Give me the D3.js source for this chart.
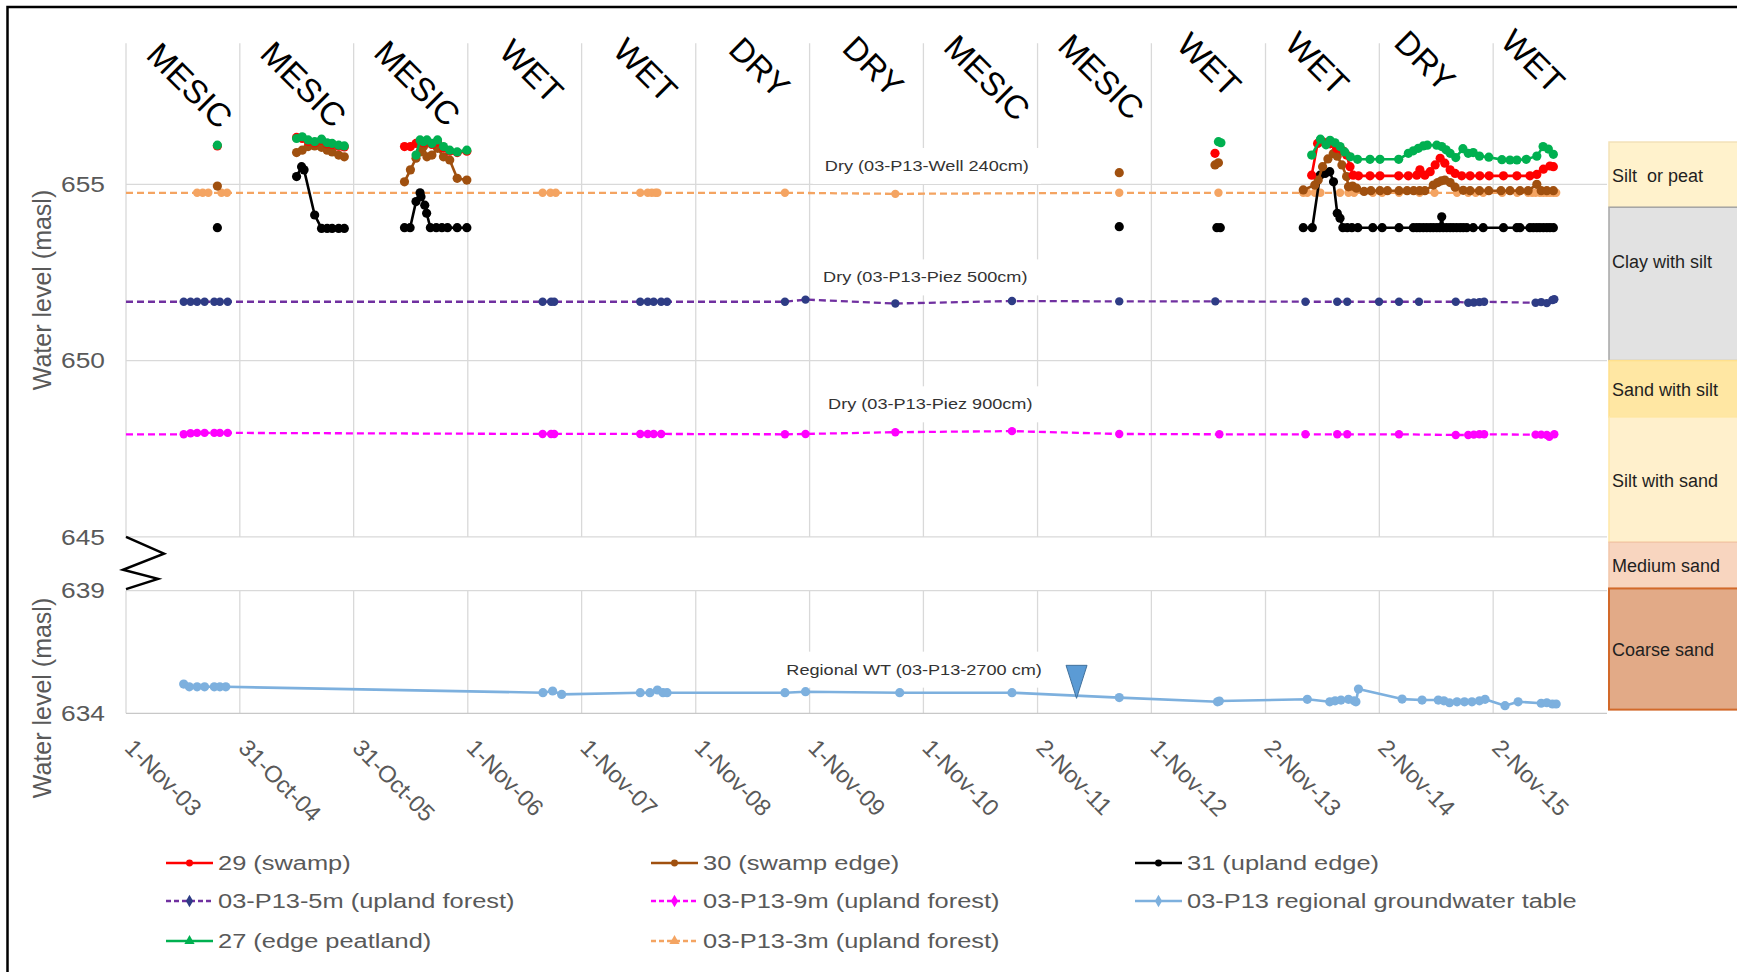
<!DOCTYPE html>
<html>
<head>
<meta charset="utf-8">
<script src="https://cdn.jsdelivr.net/npm/d3@7"></script>
<style>
  html, body { margin: 0; padding: 0; background: #ffffff; }
  svg { display: block; font-family: "Liberation Sans", Arial, sans-serif; }
</style>
</head>
<body>
<svg id="chart" width="1737" height="972"></svg>
<script>
// ---------------------------------------------------------------------------
// Axis ticks and period classes
// ---------------------------------------------------------------------------
const xTickLabels = ["1-Nov-03","31-Oct-04","31-Oct-05","1-Nov-06","1-Nov-07","1-Nov-08",
  "1-Nov-09","1-Nov-10","2-Nov-11","1-Nov-12","2-Nov-13","2-Nov-14","2-Nov-15"];
const periodClasses = ["MESIC","MESIC","MESIC","WET","WET","DRY","DRY","MESIC","MESIC",
  "WET","WET","DRY","WET"];
const upperTicks = [645, 650, 655];
const lowerTicks = [634, 639];

// ---------------------------------------------------------------------------
// Water levels (masl)
// ---------------------------------------------------------------------------
const swamp29Dates = ["2004-08-20",
  "2005-05-01","2005-05-19","2005-06-07","2005-06-28","2005-07-20","2005-08-07","2005-08-23","2005-09-13","2005-10-01",
  "2006-04-12","2006-05-01","2006-05-19","2006-06-01","2006-06-12","2006-06-23","2006-07-09","2006-07-27","2006-08-15","2006-09-04","2006-09-28","2006-10-29",
  "2013-05-24",
  "2014-03-30","2014-04-18","2014-05-06","2014-05-28","2014-06-18","2014-07-08","2014-07-20","2014-07-31","2014-08-10","2014-08-27","2014-10-03","2014-11-04",
  "2015-01-03","2015-02-03","2015-03-02","2015-03-12","2015-03-28","2015-04-14","2015-04-30","2015-05-16","2015-05-31","2015-06-17","2015-07-03","2015-07-24","2015-08-20","2015-09-20","2015-10-20","2015-12-05",
  "2016-01-17","2016-02-28","2016-03-21","2016-04-11","2016-05-02","2016-05-13"];
const swamp29Levels = [656.09,
  656.33,656.30,656.22,656.18,656.25,656.15,656.13,656.08,656.06,
  656.07,656.07,656.16,656.22,656.18,656.22,656.13,656.20,656.03,655.94,655.90,655.94,
  655.88,
  655.26,656.16,656.20,656.15,656.02,655.95,655.83,655.50,655.26,655.24,655.24,655.24,
  655.24,655.24,655.26,655.41,655.26,655.36,655.55,655.74,655.60,655.41,655.31,655.24,655.24,655.24,655.24,655.24,
  655.24,655.24,655.28,655.43,655.52,655.50];

const swampEdge30Dates = ["2004-08-20",
  "2005-05-01","2005-05-19","2005-06-07","2005-06-28","2005-07-20","2005-08-07","2005-08-23","2005-09-13","2005-10-01",
  "2006-04-12","2006-05-01","2006-05-19","2006-06-01","2006-06-12","2006-06-23","2006-07-09","2006-07-27","2006-08-15","2006-09-04","2006-09-28","2006-10-29",
  "2012-07-21",
  "2013-05-24","2013-06-04",
  "2014-03-03","2014-04-09","2014-04-20","2014-05-04","2014-05-21","2014-06-07","2014-06-20","2014-07-05","2014-07-20","2014-07-26","2014-08-08","2014-08-21","2014-09-14","2014-10-06","2014-11-04","2014-11-28",
  "2015-01-04","2015-01-30","2015-02-20","2015-03-11","2015-03-28","2015-04-24","2015-05-08","2015-05-20","2015-05-31","2015-06-17","2015-07-03","2015-07-29","2015-08-20","2015-09-19","2015-10-19","2015-11-27","2015-12-26",
  "2016-01-27","2016-02-22","2016-03-21","2016-04-04","2016-04-22","2016-05-13"];
const swampEdge30Levels = [654.95,
  655.90,655.97,656.07,656.09,656.05,655.97,655.92,655.83,655.78,
  655.07,655.41,655.74,655.92,656.07,655.78,655.83,656.02,655.78,655.69,655.17,655.12,
  655.33,
  655.55,655.61,
  654.84,654.98,655.12,655.50,655.72,655.87,655.80,655.55,655.22,654.93,654.95,654.89,654.80,654.82,654.82,654.82,
  654.82,654.82,654.82,654.82,654.82,654.98,655.05,655.10,655.12,655.05,654.92,654.83,654.82,654.82,654.82,654.82,654.82,
  654.82,654.82,655.00,654.82,654.82,654.82];

const uplandEdge31Dates = ["2004-08-20",
  "2005-05-01","2005-05-17","2005-05-25","2005-06-28","2005-07-20","2005-08-07","2005-08-23","2005-09-13","2005-10-01",
  "2006-04-12","2006-04-30","2006-05-19","2006-06-01","2006-06-04","2006-06-16","2006-06-22","2006-07-04","2006-07-23","2006-08-10","2006-08-28","2006-09-28","2006-10-29",
  "2012-07-21",
  "2013-05-30","2013-06-10",
  "2014-03-03","2014-04-01","2014-04-26","2014-05-12","2014-05-27","2014-06-08","2014-06-20","2014-06-29","2014-07-08","2014-07-22","2014-08-06","2014-08-25","2014-10-12","2014-11-11",
  "2015-01-04","2015-02-19","2015-03-02","2015-03-12","2015-03-23","2015-04-03","2015-04-14","2015-04-24","2015-05-05","2015-05-15","2015-05-21","2015-05-26","2015-06-06","2015-06-17","2015-06-27","2015-07-08","2015-07-19","2015-07-29","2015-08-09","2015-08-30","2015-10-01","2015-12-05",
  "2016-01-17","2016-01-27","2016-02-28","2016-03-10","2016-03-21","2016-03-31","2016-04-11","2016-04-22","2016-05-02","2016-05-13"];
const uplandEdge31Levels = [653.77,
  655.22,655.50,655.41,654.13,653.75,653.75,653.75,653.75,653.75,
  653.77,653.77,654.51,654.76,654.65,654.41,654.18,653.77,653.77,653.77,653.77,653.77,653.77,
  653.80,
  653.77,653.77,
  653.77,653.77,655.26,655.31,655.36,655.07,654.18,654.04,653.77,653.77,653.77,653.77,653.77,653.77,
  653.77,653.77,653.77,653.77,653.77,653.77,653.77,653.77,653.77,653.77,654.08,653.77,653.77,653.77,653.77,653.77,653.77,653.77,653.77,653.77,653.77,653.77,
  653.77,653.77,653.77,653.77,653.77,653.77,653.77,653.77,653.77,653.77];

const edgePeat27Dates = ["2004-08-20",
  "2005-05-01","2005-05-19","2005-06-07","2005-06-28","2005-07-20","2005-08-07","2005-08-23","2005-09-13","2005-10-01",
  "2006-05-19","2006-06-01","2006-06-12","2006-06-23","2006-07-09","2006-07-27","2006-08-15","2006-09-04","2006-09-28","2006-10-29",
  "2013-06-04","2013-06-12",
  "2014-03-30","2014-04-27","2014-05-15","2014-05-28","2014-06-13","2014-06-29","2014-07-14","2014-08-01","2014-08-24","2014-10-03","2014-11-04",
  "2015-01-03","2015-02-03","2015-02-19","2015-03-07","2015-03-23","2015-04-05","2015-05-05","2015-05-21","2015-06-04","2015-06-17","2015-07-05","2015-07-28","2015-08-14","2015-08-30","2015-09-19","2015-10-19","2015-11-30","2015-12-26",
  "2016-01-17","2016-02-16","2016-03-21","2016-04-10","2016-04-27","2016-05-13"];
const edgePeat27Levels = [656.11,
  656.30,656.35,656.26,656.21,656.28,656.18,656.16,656.11,656.09,
  655.83,656.26,656.21,656.26,656.16,656.26,656.07,655.97,655.92,655.97,
  656.21,656.18,
  655.83,656.28,656.12,656.25,656.18,656.07,655.92,655.78,655.71,655.71,655.71,
  655.71,655.88,655.95,656.02,656.09,656.11,656.11,656.07,655.98,655.88,655.76,656.01,655.88,655.90,655.80,655.77,655.70,655.69,
  655.69,655.71,655.80,656.07,656.00,655.85];

const p13m3Dates = ["2004-06-16","2004-07-04","2004-07-22","2004-09-02","2004-09-20",
  "2007-06-29","2007-07-24","2007-08-10",
  "2008-05-07","2008-05-31","2008-06-13","2008-06-25","2008-07-01",
  "2009-08-14","2010-08-03","2012-07-21","2013-06-04",
  "2014-03-03","2014-03-16","2014-04-09","2014-04-27","2014-06-29","2014-07-26","2014-08-13","2014-10-12","2014-11-11",
  "2015-01-04","2015-03-11","2015-04-28","2015-07-09","2015-08-14","2015-09-07","2015-10-01","2015-12-01",
  "2016-01-18","2016-02-22","2016-03-06","2016-03-17","2016-03-31","2016-04-11","2016-04-22","2016-05-02","2016-05-13","2016-05-22"];
const p13m3Levels = [654.76,654.76,654.76,654.76,654.76,
  654.76,654.76,654.76,
  654.76,654.76,654.76,654.76,654.76,
  654.76,654.73,654.76,654.76,
  654.76,654.76,654.76,654.76,654.76,654.76,654.76,654.76,654.76,
  654.76,654.76,654.76,654.76,654.76,654.76,654.76,654.76,
  654.76,654.76,654.76,654.76,654.76,654.76,654.76,654.76,654.76,654.76];

const p13m5Dates = ["2004-05-04","2004-05-26","2004-06-16","2004-07-10","2004-08-10","2004-08-28","2004-09-22",
  "2007-06-29","2007-07-26","2007-08-05",
  "2008-05-07","2008-05-31","2008-06-19","2008-07-13","2008-08-01",
  "2009-08-14","2009-10-19","2010-08-03","2011-08-12","2012-07-21","2013-05-25",
  "2014-03-10","2014-06-20","2014-07-22","2014-11-01",
  "2015-01-04","2015-03-09","2015-07-05","2015-08-14","2015-09-01","2015-09-19","2015-10-04",
  "2016-03-17","2016-04-04","2016-04-22","2016-05-10","2016-05-16"];
const p13m5Levels = [651.67,651.67,651.67,651.67,651.67,651.67,651.67,
  651.67,651.67,651.67,
  651.67,651.67,651.67,651.67,651.67,
  651.67,651.73,651.62,651.69,651.68,651.68,
  651.67,651.67,651.67,651.67,
  651.67,651.67,651.67,651.64,651.65,651.66,651.67,
  651.64,651.66,651.63,651.72,651.74];

const p13m9Dates = ["2004-05-04","2004-05-26","2004-06-16","2004-07-10","2004-08-10","2004-08-28","2004-09-22",
  "2007-06-29","2007-07-26","2007-08-05",
  "2008-05-07","2008-05-31","2008-06-19","2008-07-13",
  "2009-08-14","2009-10-19","2010-08-03","2011-08-12","2012-07-21","2013-06-07",
  "2014-03-10","2014-06-20","2014-07-22",
  "2015-01-04","2015-07-05","2015-08-14","2015-09-01","2015-09-19","2015-10-04",
  "2016-03-17","2016-04-04","2016-04-22","2016-04-30","2016-05-16"];
const p13m9Levels = [647.91,647.94,647.95,647.95,647.95,647.95,647.95,
  647.92,647.92,647.92,
  647.92,647.92,647.92,647.92,
  647.91,647.92,647.97,648.00,647.92,647.91,
  647.91,647.91,647.91,
  647.91,647.89,647.89,647.90,647.91,647.91,
  647.90,647.90,647.89,647.84,647.91];

const regionalDates = ["2004-05-04","2004-05-22","2004-06-16","2004-07-10","2004-08-10","2004-08-28","2004-09-16",
  "2007-06-30","2007-07-31","2007-08-29",
  "2008-05-07","2008-06-07","2008-07-01","2008-07-19","2008-08-01",
  "2009-08-14","2009-10-19","2010-08-17","2011-08-12","2012-07-21","2013-06-01","2013-06-07",
  "2014-03-16","2014-05-27","2014-06-13","2014-07-02","2014-07-26","2014-08-13","2014-08-19","2014-08-27",
  "2015-01-14","2015-03-19","2015-05-10","2015-05-28","2015-06-15","2015-07-09","2015-08-02","2015-08-26","2015-09-19","2015-10-07","2015-12-10",
  "2016-01-21","2016-04-04","2016-04-22","2016-05-10","2016-05-22"];
const regionalLevels = [635.19,635.08,635.08,635.08,635.08,635.08,635.08,
  634.84,634.91,634.77,
  634.84,634.84,634.95,634.84,634.84,
  634.84,634.88,634.84,634.84,634.64,634.47,634.50,
  634.57,634.47,634.51,634.54,634.57,634.51,634.47,634.99,
  634.58,634.54,634.54,634.51,634.43,634.47,634.47,634.47,634.51,634.57,634.31,
  634.47,634.41,634.43,634.38,634.38];

// Stratigraphic column beside the plot (tops/bottoms in masl)
const layerNames = ["Silt  or peat","Clay with silt","Sand with silt","Silt with sand","Medium sand","Coarse sand"];
const layerTops = [656.2, 654.35, 650.0, 648.4, 644.4, 639.25];
const layerBottoms = [654.35, 650.0, 648.4, 644.4, 639.25, 634.15];

// Notes on the plot, anchored in date / masl
const noteTexts = ["Dry (03-P13-Well 240cm)","Dry (03-P13-Piez 500cm)","Dry (03-P13-Piez 900cm)","Regional WT (03-P13-2700 cm)"];
const noteDates = ["2010-11-12","2010-11-07","2010-11-23","2010-10-02"];
const noteLevels = [655.52, 652.36, 648.76, 635.78];
const notePanels = ["upper","upper","upper","lower"];

// Water-table marker
const wtMarkerDate = "2012-03-06";
const wtMarkerLevel = 634.61;

// ---------------------------------------------------------------------------
// Scales
// ---------------------------------------------------------------------------
const parseDate = d3.timeParse("%Y-%m-%d");
const parseTick = d3.timeParse("%d-%b-%y");
const tickDates = xTickLabels.map(parseTick);

const x = d3.scaleTime()
  .domain([parseDate("2003-11-01"), parseDate("2016-11-01")])
  .range([126, 1607]);
const yUp = d3.scaleLinear().domain([645, 659]).range([536.9, 43.3]);
const yLow = d3.scaleLinear().domain([634, 639]).range([713.3, 590.7]);
// continuous mapping across the axis break (used by the side column)
function yAny(v) {
  if (v >= 645) return yUp(v);
  if (v <= 639) return yLow(v);
  return yUp(645) + (645 - v) / 6 * (yLow(639) - yUp(645));
}

const svg = d3.select("#chart");
const x0 = x.range()[0], x1 = x.range()[1];

// outer frame
svg.append("rect")
  .attr("x", 7.5).attr("y", 7).attr("width", 1800).attr("height", 1100)
  .attr("fill", "none").attr("stroke", "#000").attr("stroke-width", 2.5);

// ---------------------------------------------------------------------------
// Gridlines
// ---------------------------------------------------------------------------
const grid = svg.append("g").attr("stroke", "#d9d9d9").attr("stroke-width", 1.3);
tickDates.forEach(d => {
  grid.append("line").attr("x1", x(d)).attr("x2", x(d)).attr("y1", yUp(659)).attr("y2", yUp(645));
  grid.append("line").attr("x1", x(d)).attr("x2", x(d)).attr("y1", yLow(639)).attr("y2", yLow(634));
});
upperTicks.forEach(v => grid.append("line").attr("x1", x0).attr("x2", x1).attr("y1", yUp(v)).attr("y2", yUp(v)));
lowerTicks.forEach(v => grid.append("line").attr("x1", x0).attr("x2", x1).attr("y1", yLow(v)).attr("y2", yLow(v))
  .attr("stroke", v === 634 ? "#c8c8c8" : "#d9d9d9"));

// ---------------------------------------------------------------------------
// Axes
// ---------------------------------------------------------------------------
const tickSX = 1.17;
function styleYAxis(g) {
  g.select(".domain").remove();
  g.selectAll("text")
    .attr("font-family", "Liberation Sans, Arial, sans-serif")
    .attr("font-size", 22.5).attr("fill", "#595959")
    .attr("x", -21 / tickSX).attr("transform", `scale(${tickSX},1)`);
}
svg.append("g").attr("transform", `translate(${x0},0)`)
  .call(d3.axisLeft(yUp).tickValues(upperTicks).tickFormat(d3.format("d")).tickSize(0).tickPadding(0))
  .call(styleYAxis);
svg.append("g").attr("transform", `translate(${x0},0)`)
  .call(d3.axisLeft(yLow).tickValues(lowerTicks).tickFormat(d3.format("d")).tickSize(0).tickPadding(0))
  .call(styleYAxis);

const xAxisG = svg.append("g").attr("transform", `translate(0,${yLow(634)})`)
  .call(d3.axisBottom(x).tickValues(tickDates).tickFormat((d, i) => xTickLabels[i]).tickSize(0));
xAxisG.select(".domain").remove();
xAxisG.selectAll("text")
  .attr("font-family", "Liberation Sans, Arial, sans-serif")
  .attr("font-size", 23.5).attr("fill", "#595959")
  .attr("text-anchor", "start").attr("y", 0).attr("dy", 0)
  .attr("transform", "translate(-3,36) rotate(45)");

// axis titles
[290, 698].forEach(cy => {
  svg.append("text")
    .attr("transform", `translate(42,${cy}) rotate(-90)`)
    .attr("text-anchor", "middle").attr("dominant-baseline", "central")
    .attr("font-size", 25).attr("fill", "#595959")
    .text("Water level (masl)");
});

// period classes above each hydrological year, slanted 45 degrees;
// each word is centred on its year and hangs from a common top line
const catSize = 33, catCap = 0.716 * catSize, k = Math.SQRT1_2;
const catG = svg.append("g");
periodClasses.forEach((c, i) => {
  const t = catG.append("text").attr("font-size", catSize).attr("fill", "#000").text(c);
  const L = t.node().getComputedTextLength();
  const cx = x(tickDates[i]) + (i <= 8 ? 64 : 64 - (i - 8) * 6);
  const top = 40 - 1.1 * i;
  const px = cx - (L / 2 + catCap / 2) * k;
  const py = top + catCap * k;
  t.attr("transform", `translate(${px},${py}) rotate(45)`);
});

// axis break symbol
const breakT = [0, 0.31, 0.61, 0.78, 0.97];
const breakDX = [0, 38, -3, 32, 0];
svg.append("path")
  .attr("d", d3.line()(breakT.map((t, i) => [x0 + breakDX[i], yUp(645) + t * (yLow(639) - yUp(645))])))
  .attr("fill", "none").attr("stroke", "#000").attr("stroke-width", 2.5).attr("stroke-linejoin", "miter");

// ---------------------------------------------------------------------------
// Notes with white backing
// ---------------------------------------------------------------------------
const noteSX = 1.21;
noteTexts.forEach((txt, i) => {
  const ys = notePanels[i] === "upper" ? yUp : yLow;
  const cx = x(parseDate(noteDates[i])), cy = ys(noteLevels[i]);
  const g = svg.append("g");
  const t = g.append("text")
    .attr("transform", `translate(${cx},${cy}) scale(${noteSX},1)`)
    .attr("text-anchor", "middle").attr("dominant-baseline", "central")
    .attr("font-size", 15).attr("fill", "#333").text(txt);
  const w = t.node().getComputedTextLength() * noteSX;
  g.insert("rect", "text")
    .attr("x", cx - w / 2 - 12).attr("y", cy - 18).attr("width", w + 24).attr("height", 36)
    .attr("fill", "#fff");
});

// ---------------------------------------------------------------------------
// Series
// ---------------------------------------------------------------------------
const seriesList = [
  { name: "29 (swamp)", dates: swamp29Dates, levels: swamp29Levels, scale: yUp,
    color: "#FF0000", marker: "#FF0000", dash: null, gapDays: 180, legend: "circle" },
  { name: "30 (swamp edge)", dates: swampEdge30Dates, levels: swampEdge30Levels, scale: yUp,
    color: "#A0500F", marker: "#A0500F", dash: null, gapDays: 180, legend: "circle" },
  { name: "31 (upland edge)", dates: uplandEdge31Dates, levels: uplandEdge31Levels, scale: yUp,
    color: "#000000", marker: "#000000", dash: null, gapDays: 180, legend: "circle" },
  { name: "03-P13-5m (upland forest)", dates: p13m5Dates, levels: p13m5Levels, scale: yUp,
    color: "#7030A0", marker: "#2E3C85", dash: "7,4", extend: true, legend: "diamond" },
  { name: "03-P13-9m (upland forest)", dates: p13m9Dates, levels: p13m9Levels, scale: yUp,
    color: "#FF00FF", marker: "#FF00FF", dash: "7,4", extend: true, legend: "diamond" },
  { name: "03-P13 regional groundwater table", dates: regionalDates, levels: regionalLevels, scale: yLow,
    color: "#7DB0DE", marker: "#7DB0DE", dash: null, legend: "diamond" },
  { name: "27 (edge peatland)", dates: edgePeat27Dates, levels: edgePeat27Levels, scale: yUp,
    color: "#00B050", marker: "#00B050", dash: null, gapDays: 180, legend: "triangle" },
  { name: "03-P13-3m (upland forest)", dates: p13m3Dates, levels: p13m3Levels, scale: yUp,
    color: "#F4A462", marker: "#F4A462", dash: "7,4", extend: true, legend: "triangle" }
];

// dashed piezometer series sit underneath the shallow wells
const drawOrder = [7, 3, 4, 5, 2, 1, 0, 6];
drawOrder.forEach(idx => {
  const s = seriesList[idx];
  const pts = s.dates.map((d, i) => ({ date: parseDate(d), value: s.levels[i] }));
  const segs = [[]];
  pts.forEach((p, i) => {
    if (i > 0 && s.gapDays && (p.date - pts[i - 1].date) / 864e5 > s.gapDays) segs.push([]);
    segs[segs.length - 1].push(p);
  });
  if (s.extend) segs[0].unshift({ date: x.domain()[0], value: pts[0].value });
  const line = d3.line().x(d => x(d.date)).y(d => s.scale(d.value));
  const g = svg.append("g");
  segs.filter(sg => sg.length > 1).forEach(sg => {
    g.append("path").attr("d", line(sg))
      .attr("fill", "none").attr("stroke", s.color)
      .attr("stroke-width", s.dash ? 2.3 : 2.6)
      .attr("stroke-dasharray", s.dash)
      .attr("stroke-linejoin", "round");
  });
  g.selectAll("circle").data(pts).join("circle")
    .attr("cx", d => x(d.date)).attr("cy", d => s.scale(d.value))
    .attr("r", s.dash ? 4.2 : 4.6)
    .attr("fill", s.marker);
});

// water-table marker
{
  const tx = x(parseDate(wtMarkerDate)), ty = yLow(wtMarkerLevel);
  svg.append("path")
    .attr("d", `M${tx - 10.5},${ty - 33}L${tx + 10.5},${ty - 33}L${tx},${ty}Z`)
    .attr("fill", "#5B9BD5").attr("stroke", "#41719C").attr("stroke-width", 1);
}

// ---------------------------------------------------------------------------
// Stratigraphic column
// ---------------------------------------------------------------------------
const layerFills = ["#FFF2CC", "#E2E2E2", "#FFE7A3", "#FFF0CC", "#F8D5BF", "#E2AA87"];
const layerStrokes = ["#F3E2B8", "#A6A6A6", "#FFE08C", "#FFE8A8", "#F2C6AA", "#D2692A"];
const colX = 1609;
const col = svg.append("g");
layerNames.forEach((nm, i) => {
  const yt = yAny(layerTops[i]), yb = yAny(layerBottoms[i]);
  col.append("rect")
    .attr("x", colX).attr("y", yt).attr("width", 160).attr("height", yb - yt)
    .attr("fill", layerFills[i]).attr("stroke", layerStrokes[i])
    .attr("stroke-width", i === 5 ? 2 : 1.5);
  // names sit mid-layer; the tallest layers carry theirs in the upper part
  const ly = (yb - yt) > 140 ? yt + 55 : (yt + yb) / 2 + 1;
  col.append("text")
    .attr("x", colX + 3).attr("y", ly)
    .attr("dominant-baseline", "central")
    .attr("font-size", 18).attr("fill", "#1f1f1f")
    .style("white-space", "pre")
    .text(nm);
});

// ---------------------------------------------------------------------------
// Legend
// ---------------------------------------------------------------------------
const legendSX = 1.27;
const legCols = [166, 651, 1135];
const legRows = [863, 901, 941];
const legend = svg.append("g");
seriesList.forEach((s, i) => {
  const lx = legCols[i % 3], ly = legRows[Math.floor(i / 3)];
  legend.append("line")
    .attr("x1", lx).attr("x2", lx + 47).attr("y1", ly).attr("y2", ly)
    .attr("stroke", s.color).attr("stroke-width", 2.6)
    .attr("stroke-dasharray", s.dash ? "5,3" : null);
  const symType = s.legend === "circle" ? d3.symbolCircle
    : s.legend === "diamond" ? d3.symbolDiamond : d3.symbolTriangle;
  legend.append("path")
    .attr("transform", `translate(${lx + 23.5},${ly})`)
    .attr("d", d3.symbol().type(symType).size(s.legend === "circle" ? 38 : 45)())
    .attr("fill", s.marker);
  legend.append("text")
    .attr("transform", `translate(${lx + 52},${ly}) scale(${legendSX},1)`)
    .attr("dominant-baseline", "central")
    .attr("font-size", 20).attr("fill", "#595959")
    .text(s.name);
});
</script>
</body>
</html>
